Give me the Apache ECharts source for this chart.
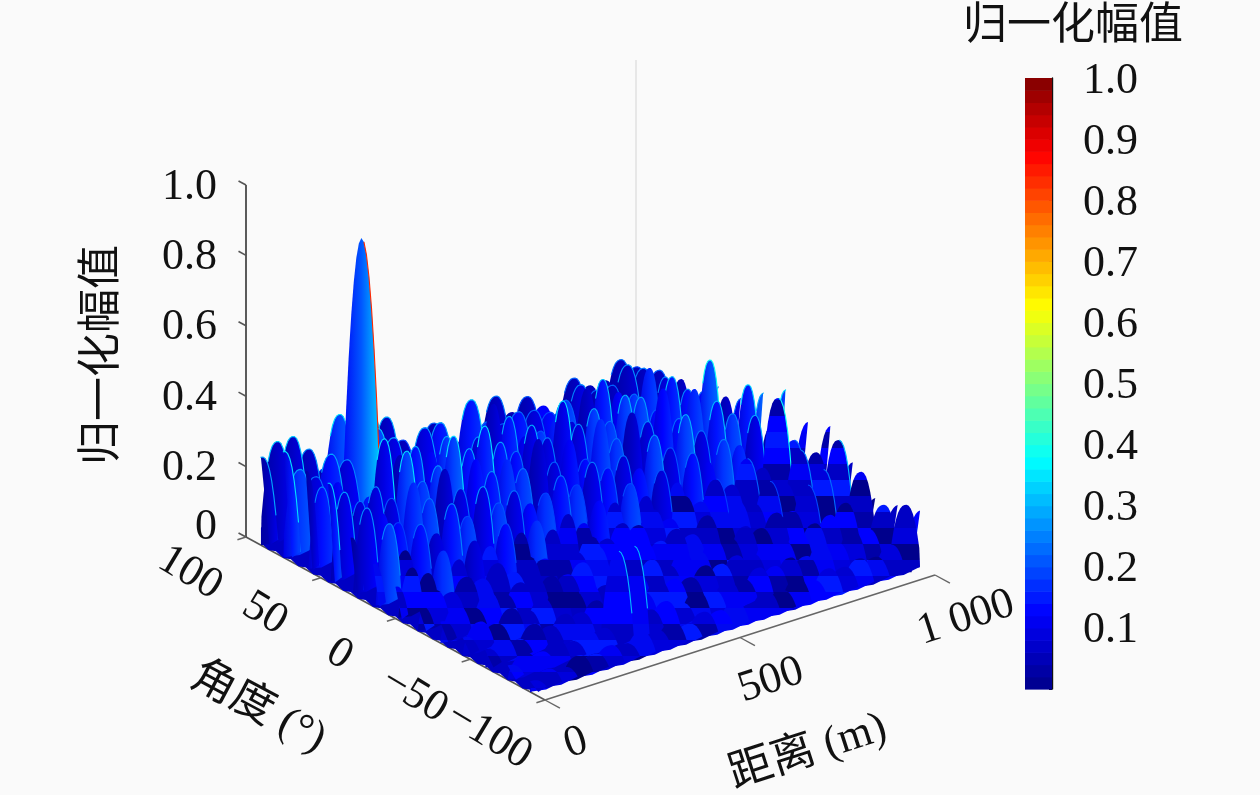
<!DOCTYPE html>
<html><head><meta charset="utf-8">
<style>html,body{margin:0;padding:0;background:#fafafa}#c{width:1260px;height:795px}</style>
<script src="https://cdn.jsdelivr.net/npm/echarts@6/dist/echarts.min.js"></script></head>
<body><div id="c"></div>
<script>
const rangeValues=[0,40,80,120,160,200,240,280,320,360,400,440,480,520,560,600,640,680,720,760,800,840,880,920,960,1000];
const angleValues=[90,75,60,45,30,15,0,-15,-30,-45,-60,-75,-90];
const h_p90=[.25,.28,.28,.23,.16,.30,.20,.28,.25,.17,.12,.19,.10,.12,.12,.21,.15,.18,.14,.105,.19,.155,.155,.20,.165,.135];
const h_p75=[.30,.235,.20,.25,.22,.836,.28,.24,.18,.24,.24,.13,.277,.20,.18,.20,.19,.17,.19,.22,.19,.19,.234,.21,.19,.155];
const h_p60=[.28,.22,.22,.14,.15,.30,.24,.25,.22,.25,.14,.22,.30,.25,.18,.18,.20,.18,.26,.27,.22,.20,.26,.22,.20,.14];
const h_p45=[.28,.24,.20,.227,.18,.30,.20,.23,.30,.25,.30,.24,.20,.26,.21,.30,.22,.25,.20,.26,.24,.19,.27,.22,.20,.198];
const h_p30=[.16,.23,.20,.16,.26,.20,.27,.20,.27,.22,.24,.20,.27,.19,.24,.17,.27,.20,.26,.22,.30,.20,.27,.338,.22,.20];
const h_p15=[.12,.22,.13,.19,.15,.22,.17,.24,.18,.20,.15,.165,.20,.16,.21,.18,.20,.15,.23,.18,.26,.20,.27,.22,.288,.25];
const h_0=[.09,.13,.10,.15,.11,.15,.12,.17,.13,.15,.11,.14,.10,.15,.13,.17,.12,.18,.13,.20,.16,.21,.18,.25,.20,.294];
const h_m15=[.07,.10,.08,.11,.09,.12,.08,.11,.09,.10,.08,.11,.09,.12,.10,.13,.09,.14,.11,.16,.13,.19,.15,.334,.20,.238];
const h_m30=[.06,.09,.07,.10,.08,.10,.10,.09,.08,.10,.13,.12,.08,.10,.09,.11,.08,.12,.10,.13,.11,.16,.14,.22,.20,.261];
const h_m45=[.05,.08,.06,.09,.07,.09,.10,.08,.09,.07,.09,.08,.10,.07,.09,.08,.10,.09,.11,.09,.12,.11,.17,.20,.27,.193];
const h_m60=[.05,.07,.05,.08,.06,.08,.07,.09,.07,.08,.07,.09,.08,.07,.09,.08,.09,.08,.10,.09,.10,.11,.12,.14,.214,.126];
const h_m75=[.04,.06,.05,.07,.05,.07,.06,.265,.265,.07,.08,.06,.08,.07,.08,.07,.09,.08,.09,.08,.10,.09,.11,.10,.155,.141];
const h_m90=[.03,.05,.04,.06,.05,.06,.05,.07,.06,.07,.05,.07,.06,.07,.05,.07,.06,.08,.06,.08,.07,.08,.07,.09,.19,.16];
const heightRows=[h_p90,h_p75,h_p60,h_p45,h_p30,h_p15,h_0,h_m15,h_m30,h_m45,h_m60,h_m75,h_m90];
const zTicks=[0,0.2,0.4,0.6,0.8,1.0];
const angleTicks=[100,50,0,-50,-100];
const rangeTicks=[0,500,1000];
const rangeTickLabels=['0','500','1 000'];
const colorbarTicks=[0.1,0.2,0.3,0.4,0.5,0.6,0.7,0.8,0.9,1.0];
const jetStops=['#000088','#0000ff','#0080ff','#00ffff','#80ff80','#ffff00','#ff8000','#ff0000','#800000'];
const mosaicBlues=['#0000c4','#0000ff','#0000a8','#0000dc','#0000f4','#0000c4','#00008c','#0008f0','#0000d0','#0018ff'];
const colorbarLevels=[.01,.03,.05,.07,.09,.11,.13,.15,.17,.19,.21,.23,.25,.27,.29,.31,.33,.35,.37,.39,.41,.43,.45,.47,.49,.51,.53,.55,.57,.59,.61,.63,.65,.67,.69,.71,.73,.75,.77,.79,.81,.83,.85,.87,.89,.91,.93,.95,.97,.99];

const LATIN='"Liberation Serif"', MIXED='"Liberation Serif","Noto Sans CJK SC"';
const project=(r,a,z)=>[246+0.39*r+1.495*(100-a),537-0.125*r+0.815*(100-a)-352*z];
const ramp=t=>echarts.color.lerp(Math.max(0,Math.min(1,t)),jetStops);
const rad=d=>d*Math.PI/180;

const cells=[];
angleValues.forEach((a,i)=>{
  for(let j=rangeValues.length-1;j>=0;j--) cells.push([rangeValues[j],a,heightRows[i][j],i,j]);
});

function renderFloor(params,api){
  const pts=[];
  const push=(r,a,z)=>pts.push(api.coord(project(r,a,z)));
  push(0,90,0.05);push(1000,90,0.05);
  let k=0;
  for(let r=1000;r>=0;r-=20) push(r,-90,(k++%2)?0.006:-0.002);
  for(let a=-90;a<=90;a+=5) push(0,a,(k++%2)?0.006:-0.002);
  return {type:'polygon',shape:{points:pts},style:{fill:'#0000c4'}};
}
function mosaicFill(pts,xc){
  let top=1e9,bot=-1e9;
  pts.forEach(p=>{top=Math.min(top,p[1]);bot=Math.max(bot,p[1]);});
  const span=Math.max(1,bot-top),stops=[];
  const col=Math.floor(xc/14);
  for(let yb=Math.floor(top/16);yb*16<bot;yb++){
    const h=(Math.imul(col*7349^yb*9151,2654435761)>>>8)%mosaicBlues.length;
    const c=mosaicBlues[h];
    const o0=Math.max(0,(yb*16-top)/span),o1=Math.min(1,((yb+1)*16-top)/span);
    stops.push({offset:o0,color:c},{offset:o1,color:c});
  }
  return new echarts.graphic.LinearGradient(0,0,0,1,stops);
}
function renderCell(params,api){
  const r=api.value(0),a=api.value(1),z=api.value(2),i=api.value(3),j=api.value(4);
  const HALF=((i>=2&&i<=6)?32:42)+z*(z>0.5?12:8), pow=z>0.5?2:2.5;
  const front=i>=7;
  const pts=[],rim=[];
  for(let t=-1;t<=1.0001;t+=1/8){
    const x=r+HALF*t;
    if(x<-HALF/8||x>1000+HALF/8) continue;
    const rr=Math.max(0,Math.min(1000,x));
    const p=api.coord(project(rr,a,z*(1-Math.pow(Math.abs(t),pow))));
    pts.push(p);
    if((z>0.5||front)?(t>0.1&&t<0.9):(t>-0.6&&t<0.9)) rim.push(p);
  }
  const left=Math.max(0,r-HALF),right=Math.min(1000,r+HALF);
  pts.push(api.coord(project((left+right)/2,a,-0.008)));
  const navyBack=(i===0&&j!==5)||(i===1&&j>=20);
  const pat=navyBack?0:(i*3+j*7+((i*j)%4))%6;
  const bases=[.01,.04,.07,.09,.11,.13];
  const lvl=bases[pat]+z*0.12;
  let fill;
  if(front||z<0.15){
    fill=mosaicFill(pts,api.coord(project(r,a,0))[0]);
  }else{
    fill=new echarts.graphic.LinearGradient(0,0,1,0,[
      {offset:0,color:ramp(lvl*0.6)},
      {offset:0.5,color:ramp(lvl+0.02)},
      {offset:0.88,color:ramp(lvl+0.03+z*0.1)},
      {offset:0.96,color:ramp(lvl+0.03+z*0.1)},
      {offset:1,color:ramp(Math.max(lvl,z*0.9))}
    ]);
  }
  const children=[{type:'polygon',shape:{points:pts},style:{fill}}];
  if(z>=0.16&&(pat%2===1||navyBack||z>0.5)) children.push({type:'polyline',shape:{points:rim},style:{fill:'none',stroke:ramp(z>0.5?z:z*1.15),lineWidth:1.1}});
  return {type:'group',children};
}
function renderAxes(params,api){
  const L=(p,q,c,w)=>({type:'line',shape:{x1:p[0],y1:p[1],x2:q[0],y2:q[1]},style:{stroke:c,lineWidth:w}});
  const P=(r,a,z)=>api.coord(project(r,a,z));
  const T=(text,x,y,rot,align)=>({type:'text',x,y,rotation:rad(rot),style:{text,x:0,y:0,align:align||'center',verticalAlign:'middle',font:'44px '+LATIN,fill:'#111'}});
  const out=[];
  out.push(L(P(0,100,0),P(0,-100,0),'#555',1.6));
  out.push(L(P(0,-100,0),P(1000,-100,0),'#666',1.6));
  out.push(L(P(0,100,0),P(0,100,1),'#333',1.6));
  zTicks.forEach(v=>{
    const p=P(0,100,v);
    out.push(L(p,P(0,105,v),'#555',1.6));
    out.push(T(v===0?'0':v.toFixed(1),217,p[1]+(v===0?-10:2),0,'right'));
  });
  angleTicks.forEach(v=>{
    const p=P(0,v,0);
    out.push(L(p,P(-22,v,0),'#666',1.4));
    out.push(T(String(v).replace('-','\u2212'),p[0]-56,p[1]+36,-31));
  });
  rangeTicks.forEach((v,k)=>{
    const p=P(v,-100,0);
    out.push(L(p,P(v,-110,0),'#666',1.4));
    out.push(T(rangeTickLabels[k],p[0]+31,p[1]+43,18));
  });
  return {type:'group',children:out};
}
function renderBackEdge(params,api){
  const p=api.coord(project(1000,100,0)),q=api.coord(project(1000,100,1));
  return {type:'line',shape:{x1:p[0],y1:p[1],x2:q[0],y2:q[1]},style:{stroke:'#dedede',lineWidth:1.4}};
}
function renderBand(params,api){
  const lo=api.value(0)-0.01,hi=api.value(0)+0.01;
  const a=api.coord([0,hi]),b=api.coord([0,lo]);
  const x=params.coordSys.x,w=params.coordSys.width;
  return {type:'rect',shape:{x,y:a[1],width:w,height:b[1]-a[1]+0.6},style:{fill:ramp(api.value(0))}};
}
function renderBarTick(params,api){
  const v=api.value(0),p=api.coord([0,v]),cs=params.coordSys;
  return {type:'text',x:cs.x+cs.width+31,y:p[1]+3,style:{text:v.toFixed(1),x:0,y:0,align:'left',verticalAlign:'middle',font:'44px '+LATIN,fill:'#111'}};
}
const chart=echarts.init(document.getElementById('c'),null,{renderer:'canvas',width:1260,height:795});
chart.setOption({
  animation:false,
  backgroundColor:'#fafafa',
  grid:[{left:0,right:0,top:0,bottom:0},{left:1025,width:27,top:78,height:611}],
  xAxis:[{type:'value',min:0,max:1260,show:false},
         {type:'value',gridIndex:1,min:0,max:1,show:false}],
  yAxis:[{type:'value',min:0,max:795,inverse:true,show:false},
         {type:'value',gridIndex:1,position:'right',min:0,max:1,interval:0.1,splitLine:{show:false},
          axisLine:{show:true,onZero:false,lineStyle:{color:'#111',width:1.4}},
          axisTick:{show:true,inside:true,length:3,lineStyle:{color:'#111'}},
          axisLabel:{show:false}}],
  graphic:[
    {type:'text',x:1073,y:27,style:{text:'归一化幅值',align:'center',verticalAlign:'middle',font:'44px '+MIXED,fill:'#111'}},
    {type:'text',x:103,y:355,rotation:rad(90),style:{text:'归一化幅值',align:'center',verticalAlign:'middle',font:'44px '+MIXED,fill:'#111'}},
    {type:'text',x:258,y:708,rotation:rad(-28),style:{text:'角度 (°)',align:'center',verticalAlign:'middle',font:'44px '+MIXED,fill:'#111'}},
    {type:'text',x:808,y:752,rotation:rad(18),style:{text:'距离 (m)',align:'center',verticalAlign:'middle',font:'44px '+MIXED,fill:'#111'}}
  ],
  series:[
    {name:'backEdge',type:'custom',coordinateSystem:'cartesian2d',xAxisIndex:0,yAxisIndex:0,clip:false,silent:true,data:[[0,0]],renderItem:renderBackEdge},
    {name:'axes3d',type:'custom',coordinateSystem:'cartesian2d',xAxisIndex:0,yAxisIndex:0,clip:false,silent:true,data:[[0,0]],renderItem:renderAxes},
    {name:'floor',type:'custom',coordinateSystem:'cartesian2d',xAxisIndex:0,yAxisIndex:0,clip:false,silent:true,data:[[0,0]],renderItem:renderFloor},
    {name:'surface',type:'custom',coordinateSystem:'cartesian2d',xAxisIndex:0,yAxisIndex:0,clip:false,silent:true,progressive:0,data:cells,encode:{x:-1,y:-1},renderItem:renderCell},
    {name:'colorbar',type:'custom',coordinateSystem:'cartesian2d',xAxisIndex:1,yAxisIndex:1,silent:true,progressive:0,data:colorbarLevels.map(v=>[v]),encode:{x:-1,y:-1},renderItem:renderBand,z:1},
    {name:'colorbarLabels',type:'custom',coordinateSystem:'cartesian2d',xAxisIndex:1,yAxisIndex:1,clip:false,silent:true,data:colorbarTicks.map(v=>[v]),encode:{x:-1,y:-1},renderItem:renderBarTick,z:2}
  ]
});
</script></body></html>
